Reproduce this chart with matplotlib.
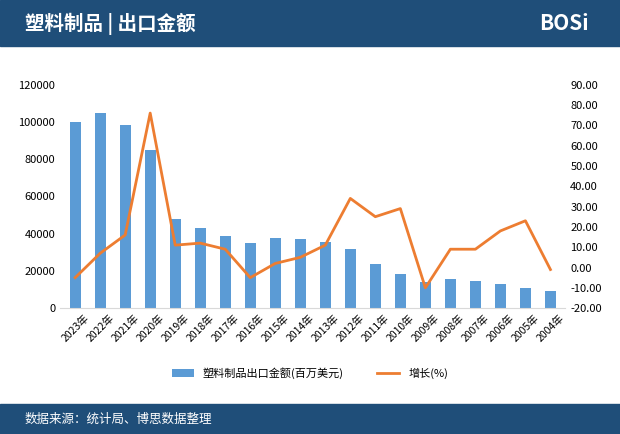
import matplotlib
matplotlib.use("Agg")
import matplotlib.pyplot as plt
import numpy as np

plt.rcParams['font.family'] = ['Noto Sans CJK SC', 'DejaVu Sans']

years = ["2023年","2022年","2021年","2020年","2019年","2018年","2017年","2016年","2015年","2014年",
         "2013年","2012年","2011年","2010年","2009年","2008年","2007年","2006年","2005年","2004年"]
export = [100000,105000,98500,85000,48000,43000,38500,35000,37500,37000,
          35500,31500,23500,18500,14000,15500,14500,13000,11000,9000]
growth = [-5,7,16,76,11,12,9,-5,2,5,11,34,25,29,-10,9,9,18,23,-1]

fig = plt.figure(figsize=(6.2,4.34), dpi=100)
fig.patch.set_facecolor('white')
# header and footer bands
fig.patches.append(matplotlib.patches.Rectangle((0,0.895),1,0.105,transform=fig.transFigure,color='#1f4e79',zorder=0))
fig.patches.append(matplotlib.patches.Rectangle((0,0),1,0.07,transform=fig.transFigure,color='#1f4e79',zorder=0))
fig.text(0.04,0.945,"塑料制品 | 出口金额",color='white',fontsize=14,fontweight='bold',va='center')
fig.text(0.95,0.945,"BOSi",color='white',fontsize=15,fontweight='bold',va='center',ha='right')
fig.text(0.04,0.035,"数据来源：统计局、博思数据整理",color='white',fontsize=9,va='center')

ax = fig.add_axes([0.097,0.29,0.815,0.515])
x = np.arange(len(years))
ax.bar(x, export, width=0.45, color='#5b9bd5', label='塑料制品出口金额(百万美元)')
ax.set_ylim(0,120000)
ax.set_yticks(range(0,120001,20000))
ax.set_xlim(-0.6,len(years)-0.4)
ax.set_xticks(x)
ax.set_xticklabels(years, rotation=45, fontsize=7.5)
ax.tick_params(axis='y', labelsize=8, length=0)
ax.tick_params(axis='x', length=0)
for s in ['top','right','left']:
    ax.spines[s].set_visible(False)
ax.spines['bottom'].set_color('#d9d9d9')

ax2 = ax.twinx()
ax2.plot(x, growth, color='#ed7d31', lw=2, label='增长(%)')
ax2.set_ylim(-20,90)
ax2.set_yticks(range(-20,91,10))
ax2.set_yticklabels([f"{v:.2f}" for v in range(-20,91,10)], fontsize=8)
ax2.tick_params(axis='y', length=0)
for s in ['top','right','left','bottom']:
    ax2.spines[s].set_visible(False)

h1,l1 = ax.get_legend_handles_labels()
h2,l2 = ax2.get_legend_handles_labels()
fig.legend(h1+h2, l1+l2, loc='center', bbox_to_anchor=(0.5,0.14), ncol=2, frameon=False, fontsize=8, columnspacing=3)

fig.savefig("out.png", dpi=100)
